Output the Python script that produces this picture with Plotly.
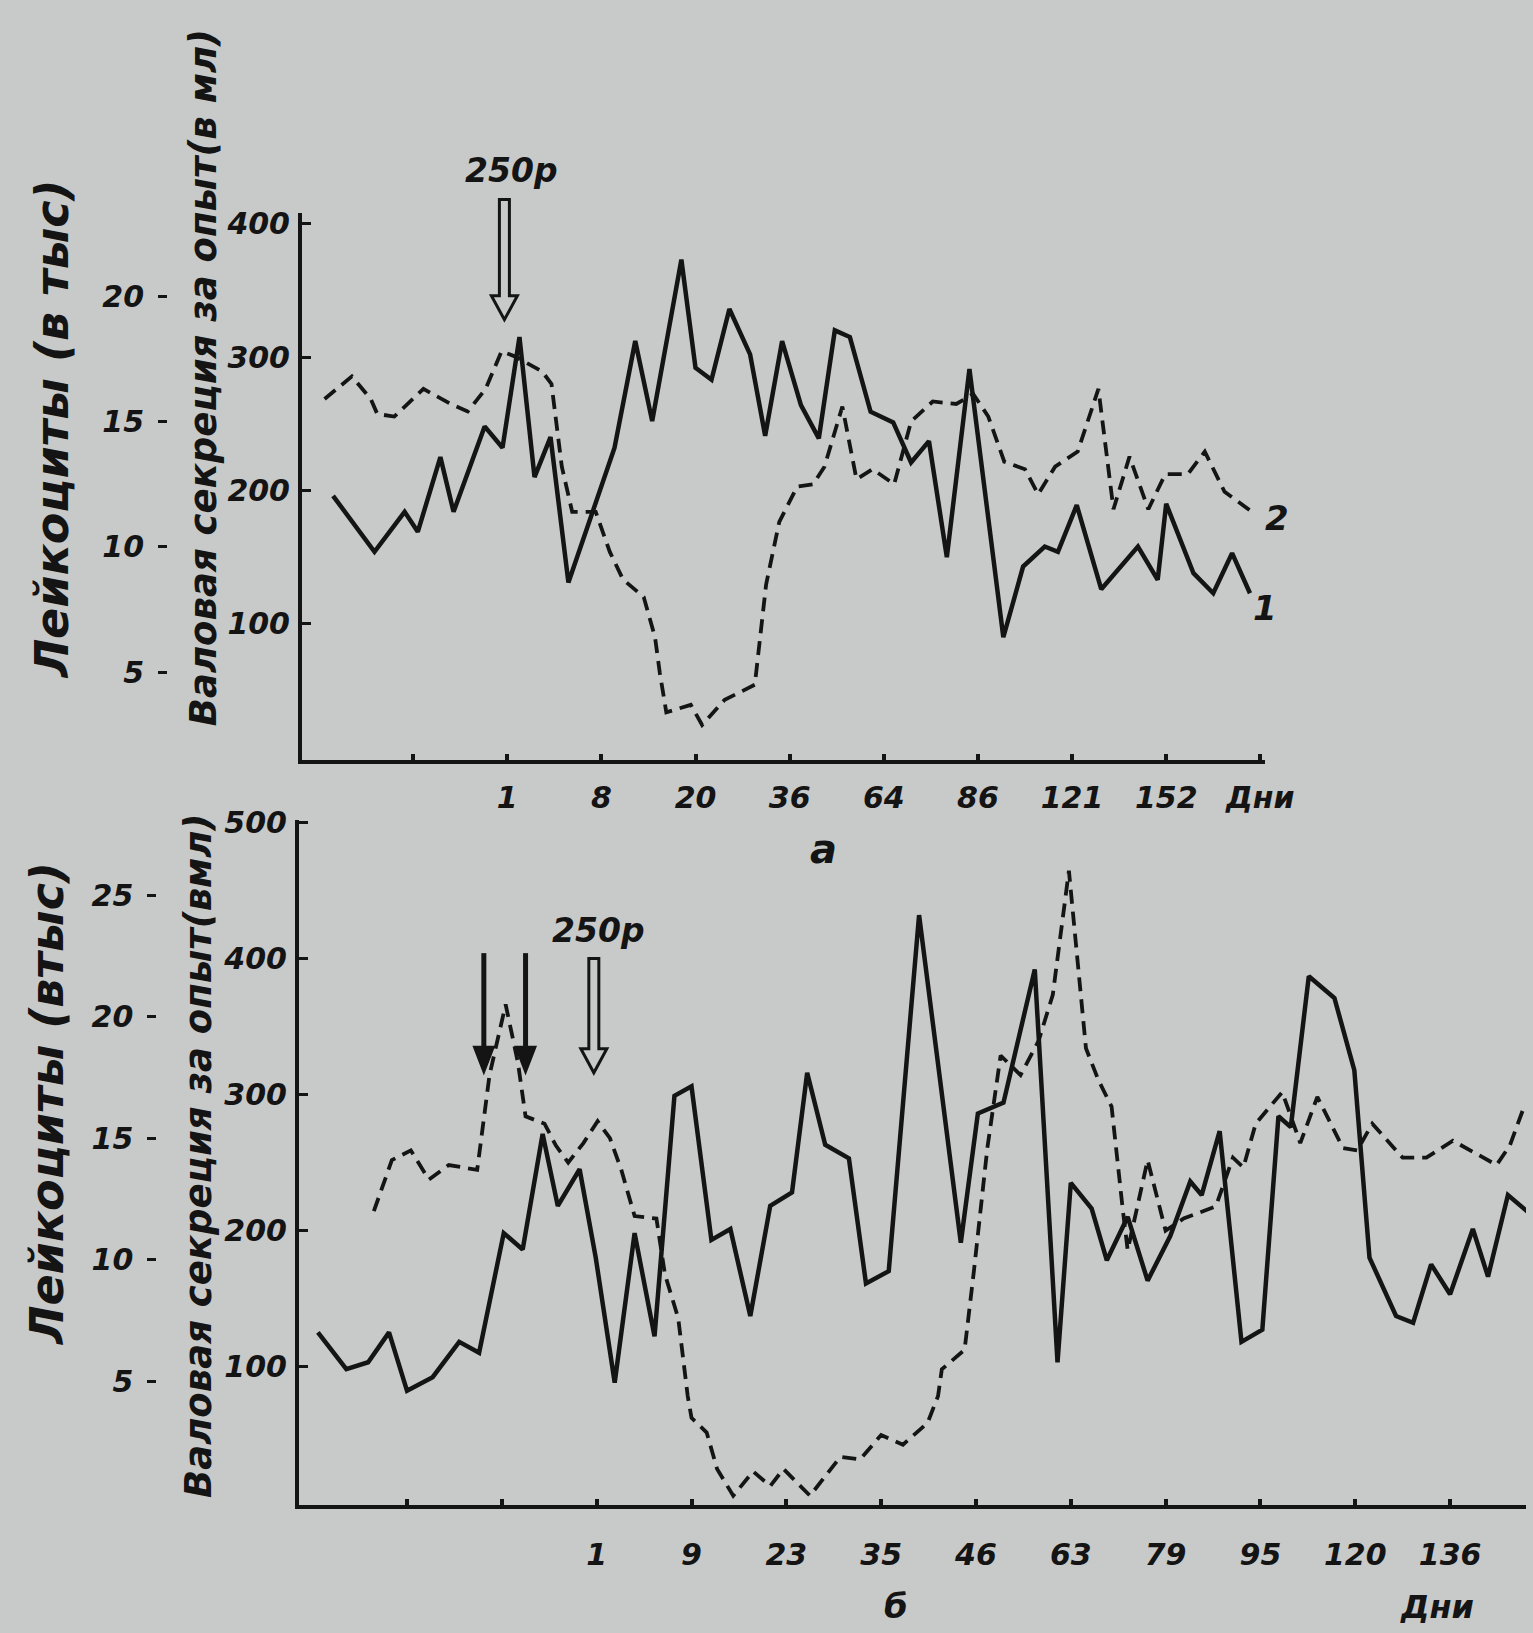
import plotly.graph_objects as go

# ---------------- data (x = position in tick units) ----------------
# panel a
a_days = ["", "1", "8", "20", "36", "64", "86", "121", "152", "Дни"]
a_sol_x = [-0.85, -0.41, -0.09, 0.05, 0.29, 0.43, 0.76, 0.95, 1.13, 1.29, 1.46, 1.65, 2.14, 2.36,
           2.54, 2.85, 3.0, 3.17, 3.36, 3.58, 3.74, 3.92, 4.12, 4.31, 4.48, 4.64, 4.86, 5.10,
           5.29, 5.48, 5.67, 5.91, 6.27, 6.48, 6.71, 6.85, 7.05, 7.31, 7.70, 7.91, 8.0, 8.29,
           8.50, 8.70, 8.89]
a_sol_ml = [196, 154, 184, 169, 225, 184, 248, 232, 315, 210, 240, 131, 232, 312,
            252, 373, 292, 283, 336, 302, 241, 312, 264, 239, 320, 315, 259, 251,
            221, 237, 150, 291, 90, 143, 158, 154, 189, 126, 158, 133, 190, 138,
            123, 153, 123]
a_dash_x = [-0.94, -0.65, -0.45, -0.38, -0.20, 0.11, 0.40, 0.58, 0.77, 0.94, 1.08, 1.37, 1.47,
            1.58, 1.69, 1.94, 2.09, 2.23, 2.45, 2.57, 2.62, 2.69, 2.95, 3.07, 3.31, 3.63, 3.75,
            3.89, 4.08, 4.25, 4.37, 4.56, 4.71, 4.88, 5.11, 5.29, 5.52, 5.77, 5.95, 6.11, 6.28,
            6.50, 6.64, 6.82, 7.06, 7.28, 7.44, 7.61, 7.81, 7.99, 8.23, 8.41, 8.62, 8.91]
a_dash_leuk = [15.9, 16.8, 15.9, 15.3, 15.2, 16.3, 15.7, 15.4, 16.3, 17.8, 17.6, 17.0, 16.5,
               13.2, 11.4, 11.4, 9.8, 8.7, 8.0, 6.4, 5.0, 3.4, 3.7, 2.9, 3.9, 4.5, 8.5,
               11.0, 12.4, 12.5, 13.2, 15.6, 12.7, 13.1, 12.5, 15.0, 15.8, 15.7, 16.1, 15.2, 13.4,
               13.1, 12.1, 13.2, 13.8, 16.3, 11.5, 13.6, 11.5, 12.9, 12.9, 13.8, 12.2, 11.4]

# panel б
b_days = ["", "", "1", "9", "23", "35", "46", "63", "79", "95", "120", "136"]
b_sol_x = [-0.94, -0.64, -0.41, -0.19, 0.0, 0.27, 0.55, 0.76, 1.02, 1.22, 1.43, 1.59, 1.82, 1.99,
           2.19, 2.40, 2.61, 2.82, 3.0, 3.21, 3.41, 3.62, 3.83, 4.06, 4.22, 4.41, 4.66, 4.84,
           5.08, 5.40, 5.84, 6.02, 6.29, 6.62, 6.86, 7.0, 7.22, 7.38, 7.60, 7.81, 8.05, 8.26,
           8.38, 8.57, 8.80, 9.02, 9.19, 9.32, 9.51, 9.78, 9.99, 10.15, 10.43, 10.61, 10.80,
           11.0, 11.24, 11.40, 11.61, 11.83]
b_sol_ml = [125, 98, 103, 125, 82, 92, 118, 110, 198, 186, 271, 218, 245, 180,
            88, 198, 122, 299, 306, 193, 201, 137, 218, 228, 316, 263, 253, 161,
            170, 432, 191, 286, 294, 392, 103, 235, 216, 178, 210, 163, 196, 236,
            226, 273, 118, 127, 284, 276, 387, 371, 318, 180, 137, 132, 175,
            153, 201, 166, 226, 213]
b_dash_x = [-0.35, -0.16, 0.04, 0.23, 0.44, 0.74, 0.87, 1.04, 1.17, 1.25, 1.45, 1.57, 1.70, 1.86,
            2.01, 2.14, 2.26, 2.33, 2.40, 2.63, 2.72, 2.86, 2.96, 3.0, 3.16, 3.27, 3.44, 3.65,
            3.83, 3.97, 4.25, 4.57, 4.78, 5.0, 5.23, 5.49, 5.60, 5.64, 5.88, 5.98, 6.12, 6.26,
            6.47, 6.66, 6.81, 6.98, 7.16, 7.29, 7.43, 7.55, 7.60, 7.81, 8.0, 8.19, 8.53, 8.71,
            8.82, 8.95, 9.23, 9.42, 9.60, 9.87, 10.02, 10.18, 10.50, 10.75, 11.03, 11.49, 11.63,
            11.79]
b_dash_leuk = [12.0, 14.1, 14.5, 13.3, 13.9, 13.7, 17.6, 20.5, 18.1, 15.9, 15.6, 14.7, 14.0, 14.8,
               15.7, 15.0, 13.7, 12.8, 11.8, 11.7, 9.4, 7.6, 4.4, 3.5, 2.9, 1.4, 0.3, 1.3,
               0.7, 1.4, 0.3, 1.9, 1.8, 2.8, 2.4, 3.3, 4.4, 5.5, 6.3, 9.6, 14.6, 18.4,
               17.6, 19.0, 20.9, 26.0, 18.7, 17.4, 16.3, 12.0, 10.4, 14.1, 11.2, 11.7, 12.2, 14.2,
               13.8, 15.6, 16.9, 14.8, 16.7, 14.6, 14.5, 15.6, 14.2, 14.2, 14.9, 13.9, 14.7,
               16.4]

ml_ticks_a = [100, 200, 300, 400]
ml_ticks_b = [100, 200, 300, 400, 500]
leuk_ticks_a = [5, 10, 15, 20]
leuk_ticks_b = [5, 10, 15, 20, 25]

# ---------------- layout geometry ----------------
W, H = 1533, 1633
BG = "#c8cac9"
INK = "#141414"
FONT = "DejaVu Sans"

A = dict(xdom=[0.1970, 0.8252], xr=[-1.18, 9.05], ydom=[0.5346, 0.8696], yr=[-2, 408])
B = dict(xdom=[0.1950, 0.9954], xr=[-1.14, 11.80], ydom=[0.0784, 0.4979], yr=[-2, 502])
A_leuk_r = [1.50, 23.32]
B_leuk_r = [-0.08, 28.09]


def px(p, k):
    d, r = p["xdom"], p["xr"]
    return d[0] + (k - r[0]) / (r[1] - r[0]) * (d[1] - d[0])


def py(p, v):
    d, r = p["ydom"], p["yr"]
    return d[0] + (v - r[0]) / (r[1] - r[0]) * (d[1] - d[0])


def tf(size):
    return dict(family=FONT, size=size, color=INK, style="italic", weight="bold")


fig = go.Figure()
sol = dict(color=INK, width=4.5)
dsh = dict(color=INK, width=3.8, dash="14px,8px")
fig.add_trace(go.Scatter(x=a_sol_x, y=a_sol_ml, mode="lines", line=sol, xaxis="x", yaxis="y",
                         showlegend=False, cliponaxis=False))
fig.add_trace(go.Scatter(x=a_dash_x, y=a_dash_leuk, mode="lines", line=dsh, xaxis="x", yaxis="y2",
                         showlegend=False, cliponaxis=False))
fig.add_trace(go.Scatter(x=b_sol_x, y=b_sol_ml, mode="lines", line=sol, xaxis="x2", yaxis="y3",
                         showlegend=False, cliponaxis=False))
fig.add_trace(go.Scatter(x=b_dash_x, y=b_dash_leuk, mode="lines", line=dsh, xaxis="x2", yaxis="y4",
                         showlegend=False, cliponaxis=False))

common_x = dict(showgrid=False, zeroline=False, showline=True, linecolor=INK, linewidth=4,
                ticks="inside", ticklen=6, tickwidth=4, tickcolor=INK, tickfont=tf(30),
                ticklabelstandoff=8, automargin=False)
common_ml = dict(showgrid=False, zeroline=False, showline=True, linecolor=INK, linewidth=4,
                 ticks="inside", ticklen=9, tickwidth=3, tickcolor=INK, tickfont=tf(30),
                 ticklabelstandoff=2, automargin=False)
common_lk = dict(showgrid=False, zeroline=False, showline=False, ticks="outside", ticklen=9,
                 tickwidth=3, tickcolor=INK, tickfont=tf(30), side="left", anchor="free",
                 ticklabelstandoff=8, automargin=False)

fig.update_layout(
    width=W, height=H, autosize=False, margin=dict(l=0, r=0, t=0, b=0, pad=0, autoexpand=False),
    paper_bgcolor=BG, plot_bgcolor=BG, showlegend=False,
    xaxis=dict(domain=A["xdom"], range=A["xr"], anchor="y",
               tickmode="array", tickvals=list(range(len(a_days))), ticktext=a_days, **common_x),
    yaxis=dict(domain=A["ydom"], range=A["yr"], anchor="x",
               tickmode="array", tickvals=ml_ticks_a, **common_ml),
    yaxis2=dict(overlaying="y", range=A_leuk_r, position=0.109,
                tickmode="array", tickvals=leuk_ticks_a, **common_lk),
    xaxis2=dict(domain=B["xdom"], range=B["xr"], anchor="y3",
                tickmode="array", tickvals=list(range(len(b_days))), ticktext=b_days,
                **{**common_x, "ticklabelstandoff": 20}),
    yaxis3=dict(domain=B["ydom"], range=B["yr"], anchor="x2",
                tickmode="array", tickvals=ml_ticks_b, **common_ml),
    yaxis4=dict(overlaying="y3", range=B_leuk_r, position=0.102,
                tickmode="array", tickvals=leuk_ticks_b, **common_lk),
)


# ---------------- arrows (250 r irradiation markers) ----------------
def open_arrow(p, k, v_top, v_tip):
    xs = px(p, k)
    sw, hw, hl = 5 / W, 13 / W, 24 / H
    yt, yk = py(p, v_top), py(p, v_tip)
    yh = yk + hl
    path = (f"M {xs - sw} {yt} L {xs + sw} {yt} L {xs + sw} {yh} L {xs + hw} {yh} "
            f"L {xs} {yk} L {xs - hw} {yh} L {xs - sw} {yh} Z")
    fig.add_shape(type="path", path=path, xref="paper", yref="paper",
                  line=dict(color=INK, width=3), fillcolor="rgba(0,0,0,0)")


def solid_arrow(p, k, v_top, v_tip):
    xs = px(p, k)
    hw, hl = 10 / W, 26 / H
    yt, yk = py(p, v_top), py(p, v_tip)
    fig.add_shape(type="line", x0=xs, x1=xs, y0=yt, y1=yk + hl * 0.8, xref="paper", yref="paper",
                  line=dict(color=INK, width=5))
    path = f"M {xs - hw} {yk + hl} L {xs + hw} {yk + hl} L {xs} {yk} Z"
    fig.add_shape(type="path", path=path, xref="paper", yref="paper",
                  line=dict(color=INK, width=2), fillcolor=INK)


open_arrow(A, 0.97, 418, 328)
solid_arrow(B, 0.81, 404, 316)
solid_arrow(B, 1.25, 404, 316)
open_arrow(B, 1.97, 400, 316)


def note(text, x, y, size, angle=0):
    fig.add_annotation(text=text, x=x, y=y, xref="paper", yref="paper", showarrow=False,
                       textangle=angle, font=tf(size), xanchor="center", yanchor="middle")


note("250р", px(A, 1.05), py(A, 440), 33)
note("250р", px(B, 2.02), py(B, 421), 33)
note("1", px(A, 9.05), py(A, 112), 34)
note("2", px(A, 9.18), py(A, 179), 34)
note("а", 0.537, 0.480, 40)
note("б", 0.5845, 0.0165, 34)
note("Дни", 0.9374, 0.0160, 32)

# axis titles (rotated)
note("Лейкоциты (в тыс)", 0.034, 0.7373, 46, angle=-90)
note("Валовая секреция за опыт(в мл)", 0.1324, 0.769, 37, angle=-90)
note("Лейкоциты (втыс)", 0.0306, 0.324, 46, angle=-90)
note("Валовая секреция за опыт(вмл)", 0.129, 0.292, 37, angle=-90)

fig.write_html(
    "out.html",
    config={"displayModeBar": False},
    post_script=("document.body.style.margin='0';"
                 "document.body.style.background='" + BG + "';"),
)
